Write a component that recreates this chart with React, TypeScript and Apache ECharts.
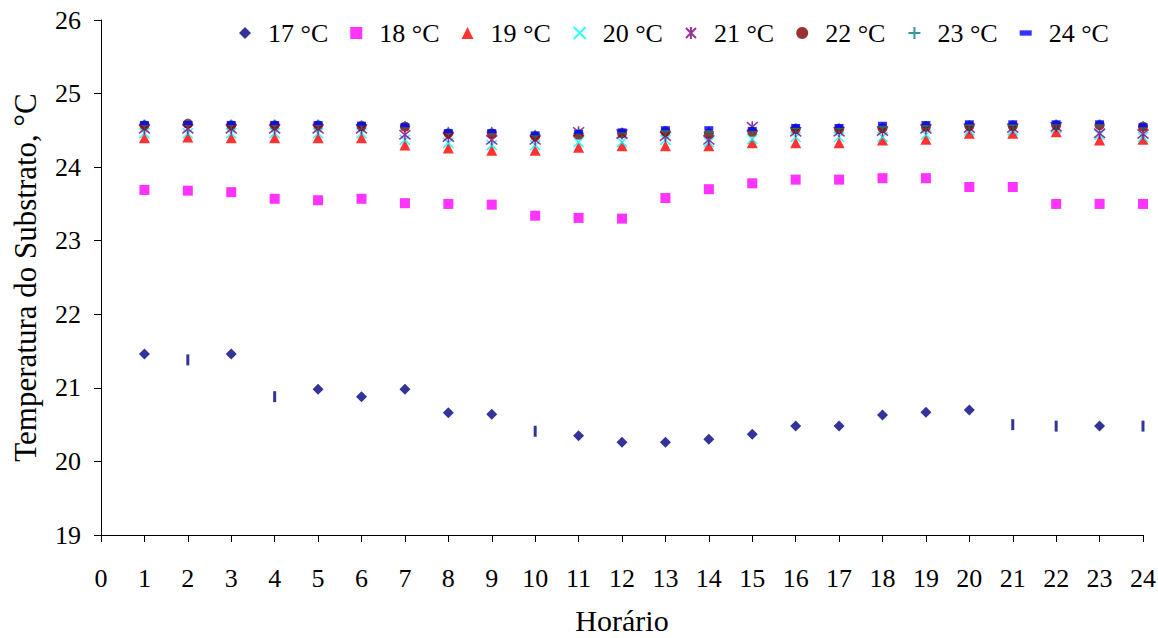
import React, { useEffect, useRef } from "react";
import * as echarts from "echarts";

const hours = [1, 2, 3, 4, 5, 6, 7, 8, 9, 10, 11, 12, 13, 14, 15, 16, 17, 18, 19, 20, 21, 22, 23, 24];
const seriesNames = ["17 °C", "18 °C", "19 °C", "20 °C", "21 °C", "22 °C", "23 °C", "24 °C"];
const t17 = [21.46, 21.38, 21.46, 20.88, 20.98, 20.88, 20.98, 20.66, 20.64, 20.41, 20.35, 20.26, 20.26, 20.30, 20.37, 20.48, 20.48, 20.63, 20.67, 20.70, 20.50, 20.48, 20.48, 20.48];
// marker kind used for each 17 °C point: d = diamond, b = vertical bar
const t17Marker = ["d", "b", "d", "b", "d", "d", "d", "d", "d", "b", "d", "d", "d", "d", "d", "d", "d", "d", "d", "d", "b", "b", "d", "b"];
const t18 = [23.69, 23.68, 23.66, 23.57, 23.55, 23.57, 23.51, 23.50, 23.49, 23.34, 23.31, 23.30, 23.58, 23.70, 23.78, 23.83, 23.83, 23.85, 23.85, 23.73, 23.73, 23.50, 23.50, 23.50];
const t19 = [24.40, 24.41, 24.40, 24.40, 24.40, 24.40, 24.30, 24.26, 24.23, 24.23, 24.27, 24.29, 24.29, 24.29, 24.33, 24.33, 24.33, 24.37, 24.38, 24.46, 24.46, 24.48, 24.37, 24.38];
const t20 = [24.46, 24.46, 24.46, 24.46, 24.46, 24.46, 24.37, 24.33, 24.30, 24.30, 24.34, 24.34, 24.37, 24.34, 24.38, 24.41, 24.41, 24.41, 24.44, 24.50, 24.50, 24.53, 24.44, 24.41];
const t21 = [24.52, 24.52, 24.52, 24.52, 24.52, 24.52, 24.44, 24.41, 24.37, 24.37, 24.48, 24.45, 24.42, 24.37, 24.55, 24.48, 24.48, 24.49, 24.52, 24.53, 24.53, 24.55, 24.46, 24.45];
const t22 = [24.57, 24.59, 24.57, 24.57, 24.57, 24.56, 24.55, 24.46, 24.46, 24.42, 24.44, 24.46, 24.48, 24.46, 24.48, 24.52, 24.52, 24.53, 24.55, 24.56, 24.56, 24.57, 24.57, 24.55];
const t23 = [24.58, 24.59, 24.58, 24.58, 24.58, 24.57, 24.56, 24.48, 24.48, 24.44, 24.46, 24.47, 24.49, 24.48, 24.50, 24.53, 24.53, 24.54, 24.56, 24.57, 24.57, 24.58, 24.58, 24.56];
const t24 = [24.60, 24.60, 24.60, 24.60, 24.60, 24.59, 24.57, 24.49, 24.49, 24.46, 24.48, 24.50, 24.53, 24.53, 24.52, 24.56, 24.56, 24.59, 24.60, 24.61, 24.61, 24.61, 24.61, 24.57];

const FONT = "'Liberation Serif', 'Times New Roman', serif";

const pts = (vals: number[]) => vals.map((v, i) => [hours[i], v]);

export default function App() {
  const ref = useRef<HTMLDivElement>(null);
  useEffect(() => {
    if (!ref.current) return;
    const chart = echarts.init(ref.current, null, { renderer: "svg" });
    const xPath = "path://M0,0L10,10M10,0L0,10";
    const starPath = "path://M0,0L10,10M10,0L0,10M5,-1L5,11";
    const plusPath = "path://M5,0L5,10M0,5L10,5";
    const dashPath = "path://M0,0L9,0L9,4L0,4Z";
    const defs = [
      { name: seriesNames[0], data: t17, color: "#000080", symbol: "diamond", size: 11 },
      { name: seriesNames[1], data: t18, color: "#FF00FF", symbol: "rect", size: 10 },
      { name: seriesNames[2], data: t19, color: "#FF0000", symbol: "triangle", size: 11 },
      { name: seriesNames[3], data: t20, color: "#00FFFF", symbol: xPath, size: 10, line: true },
      { name: seriesNames[4], data: t21, color: "#800080", symbol: starPath, size: 11, line: true },
      { name: seriesNames[5], data: t22, color: "#800000", symbol: "circle", size: 10 },
      { name: seriesNames[6], data: t23, color: "#008080", symbol: plusPath, size: 10, line: true },
      { name: seriesNames[7], data: t24, color: "#0000FF", symbol: "rect", size: [9, 4] },
    ];
    const series = defs.map((d, si) => {
      let data: any[] = pts(d.data);
      if (si === 0) {
        data = data.map((p, i) =>
          t17Marker[i] === "b" ? { value: p, symbol: "rect", symbolSize: [3, 11] } : { value: p }
        );
      }
      return {
        type: "scatter",
        name: d.name,
        data,
        symbol: d.symbol,
        symbolSize: d.size,
        itemStyle: d.line
          ? { color: "rgba(0,0,0,0)", borderColor: d.color, borderWidth: 1.6 }
          : { color: d.color },
        emphasis: { disabled: true },
      };
    });
    const legendIcons = ["diamond", "rect", "triangle", xPath, starPath, "circle", plusPath, dashPath];
    chart.setOption({
      animation: false,
      grid: { left: 101, right: 15, top: 20, bottom: 103, containLabel: false, outerBoundsMode: "none" },
      legend: {
        top: 15,
        left: 234,
        itemWidth: 12,
        itemHeight: 12,
        itemGap: 22,
        textStyle: { fontFamily: FONT, fontSize: 26, color: "#000", padding: [0, 0, 0, 12] },
        data: seriesNames.map((n, i) => ({ name: n, icon: legendIcons[i] })),
      },
      xAxis: {
        type: "value",
        min: 0,
        max: 24,
        interval: 1,
        name: "Horário",
        nameLocation: "middle",
        nameGap: 70,
        nameTextStyle: { fontFamily: FONT, fontSize: 30, color: "#000" },
        axisLine: { lineStyle: { color: "#000", width: 1 } },
        axisTick: { show: true, inside: false, length: 7, lineStyle: { color: "#000" } },
        axisLabel: { fontFamily: FONT, fontSize: 26, color: "#000", margin: 30 },
        splitLine: { show: false },
      },
      yAxis: {
        type: "value",
        min: 19,
        max: 26,
        interval: 1,
        name: "Temperatura do Substrato, °C",
        nameLocation: "middle",
        nameGap: 60,
        nameTextStyle: { fontFamily: FONT, fontSize: 31, color: "#000" },
        axisLine: { show: true, lineStyle: { color: "#000", width: 1 } },
        axisTick: { show: true, inside: false, length: 7, lineStyle: { color: "#000" } },
        axisLabel: { fontFamily: FONT, fontSize: 26, color: "#000", margin: 20 },
        splitLine: { show: false },
      },
      series,
    });
    return () => chart.dispose();
  }, []);
  return (
    <div
      ref={ref}
      style={{ position: "fixed", left: 0, top: 0, width: 1158, height: 638, background: "#fff" }}
    />
  );
}
